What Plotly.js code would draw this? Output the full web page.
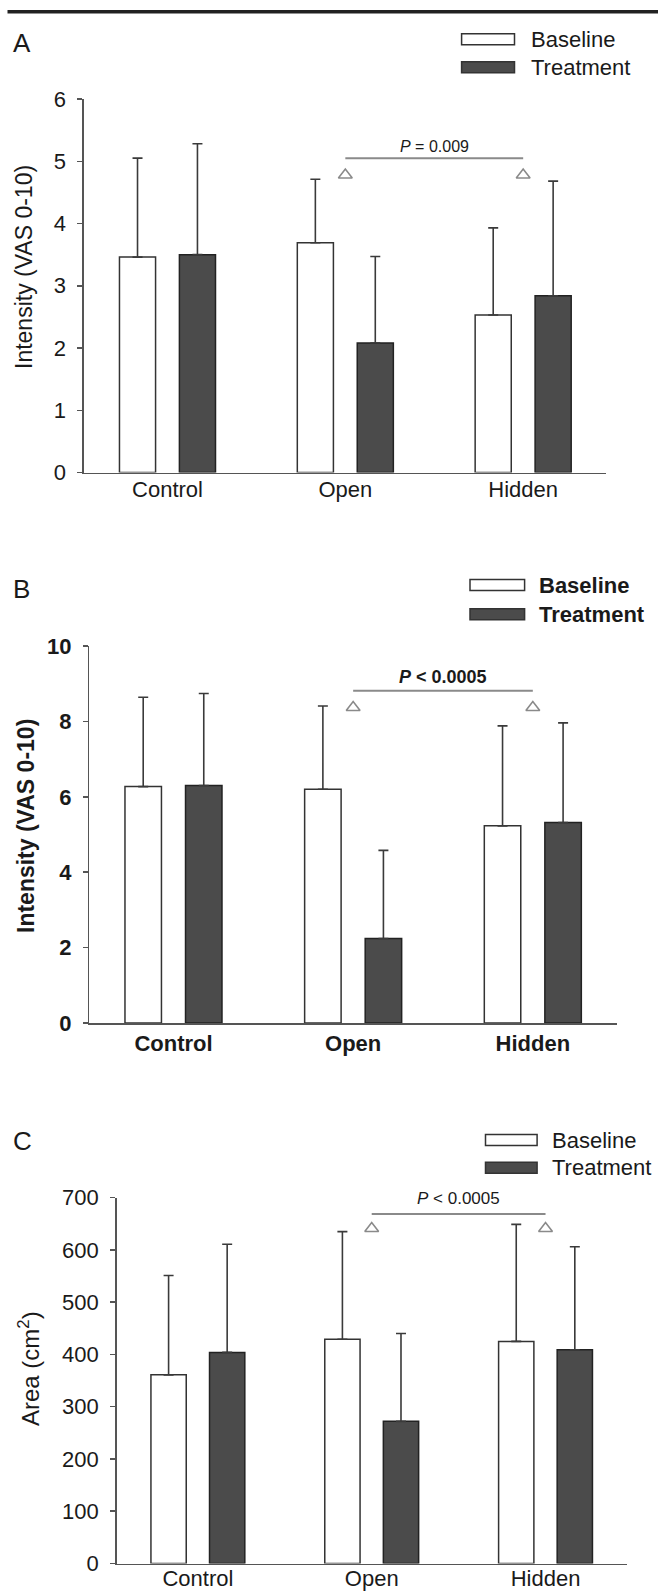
<!DOCTYPE html>
<html>
<head>
<meta charset="utf-8">
<script src="https://cdn.plot.ly/plotly-3.0.1.min.js"></script>
<style>
  html, body { margin: 0; padding: 0; background: #ffffff; }
  #chart { width: 658px; height: 1593px; }
</style>
</head>
<body>
<div id="chart"></div>
<script>
// ---------------- DATA ----------------
const categories = ['Control', 'Open', 'Hidden'];
const seriesNames = ['Baseline', 'Treatment'];
const panelLetters = ['A', 'B', 'C'];
const yTitles = ['Intensity (VAS 0-10)', 'Intensity (VAS 0-10)', 'Area (cm<sup>2</sup>)'];

// Panel A – intensity (VAS 0-10)
const aBaseline = [3.46, 3.69, 2.53];
const aBaselineErr = [1.59, 1.02, 1.40];
const aTreatment = [3.50, 2.08, 2.84];
const aTreatmentErr = [1.78, 1.39, 1.84];
const aTicks = [0, 1, 2, 3, 4, 5, 6];

// Panel B – intensity (VAS 0-10)
const bBaseline = [6.27, 6.20, 5.23];
const bBaselineErr = [2.37, 2.21, 2.65];
const bTreatment = [6.30, 2.24, 5.32];
const bTreatmentErr = [2.44, 2.34, 2.64];
const bTicks = [0, 2, 4, 6, 8, 10];

// Panel C – area (cm2)
const cBaseline = [361, 429, 425];
const cBaselineErr = [190, 206, 224];
const cTreatment = [404, 272, 409];
const cTreatmentErr = [207, 168, 197];
const cTicks = [0, 100, 200, 300, 400, 500, 600, 700];

// Significance brackets (Open vs Hidden)
const sigCategories = ['Open', 'Hidden'];
const sigLabels = ['<i>P</i> = 0.009', '<i>P</i> &lt; 0.0005', '<i>P</i> &lt; 0.0005'];
const sigLineY = [5.05, 8.81, 669];
const sigMarkY = [4.78, 8.37, 641];

// ---------------- STYLE / LAYOUT ----------------
const W = 658, H = 1593;
const px = v => v / W;
const py = v => 1 - v / H;
const FONT = 'Liberation Sans, Arial, Helvetica, sans-serif';
const INK = '#1a1a1a';
const AXIS = '#555555';
const DARK = '#4b4b4b';

const panels = [
  { base: aBaseline, baseErr: aBaselineErr, treat: aTreatment, treatErr: aTreatmentErr, ticks: aTicks,
    yr: [0, 6], xdom: [83.9, 606.4], ydom: [472.5, 99], xr: [-0.470, 2.468], bold: false, xStand: -3,
    legX: [461.6, 514.5], legY: [39.2, 67.2], legText: 528.7, letterY: 43.5,
    titleX: 24, titleY: 267, titleSize: 23, pSize: 16, pShift: 1 },
  { base: bBaseline, baseErr: bBaselineErr, treat: bTreatment, treatErr: bTreatmentErr, ticks: bTicks,
    yr: [0, 10], xdom: [89.4, 616.9], ydom: [1023, 646], xr: [-0.468, 2.468], bold: true, xStand: 0,
    legX: [470, 524.6], legY: [585, 614.3], legText: 537, letterY: 589,
    titleX: 26, titleY: 826, titleSize: 23, pSize: 18, pShift: 2 },
  { base: cBaseline, baseErr: cBaselineErr, treat: cTreatment, treatErr: cTreatmentErr, ticks: cTicks,
    yr: [0, 700], xdom: [116.7, 627.4], ydom: [1563.5, 1197.7], xr: [-0.467, 2.471], bold: false, xStand: -5,
    legX: [485.5, 537.1], legY: [1140, 1167.7], legText: 549.7, letterY: 1141,
    titleX: 29, titleY: 1369, titleSize: 24, pSize: 17, pShift: 4 }
];

const data = [];
const layout = {
  width: W, height: H,
  margin: { l: 0, r: 0, t: 0, b: 0 },
  paper_bgcolor: '#ffffff', plot_bgcolor: '#ffffff',
  showlegend: false,
  font: { family: FONT, color: INK },
  shapes: [
    { type: 'line', xref: 'paper', yref: 'paper', x0: px(7.5), x1: 1, y0: py(11.7), y1: py(11.7),
      line: { color: '#222222', width: 3.5 } }
  ],
  annotations: []
};

panels.forEach((p, i) => {
  const n = i === 0 ? '' : String(i + 1);
  const xa = 'x' + n, ya = 'y' + n;
  const weight = p.bold ? 'bold' : 'normal';
  const zeros = p.base.map(() => 0);

  const errStyle = { color: '#3a3a3a', thickness: 1.6, width: 5 };
  data.push({
    type: 'bar', name: seriesNames[0], x: categories, y: p.base, xaxis: xa, yaxis: ya,
    offset: -0.27, width: 0.203,
    marker: { color: '#ffffff', line: { color: '#333333', width: 1.5 } },
    error_y: Object.assign({ type: 'data', symmetric: false, array: p.baseErr, arrayminus: zeros }, errStyle),
    hoverinfo: 'x+y'
  });
  data.push({
    type: 'bar', name: seriesNames[1], x: categories, y: p.treat, xaxis: xa, yaxis: ya,
    offset: 0.067, width: 0.203,
    marker: { color: DARK, line: { color: '#222222', width: 1.5 } },
    error_y: Object.assign({ type: 'data', symmetric: false, array: p.treatErr, arrayminus: zeros }, errStyle),
    hoverinfo: 'x+y'
  });
  // significance line
  data.push({
    type: 'scatter', mode: 'lines', x: sigCategories, y: [sigLineY[i], sigLineY[i]],
    xaxis: xa, yaxis: ya, line: { color: '#8a8a8a', width: 2 }, hoverinfo: 'skip', cliponaxis: false
  });
  // open triangles
  data.push({
    type: 'scatter', mode: 'markers', x: sigCategories, y: [sigMarkY[i], sigMarkY[i]],
    xaxis: xa, yaxis: ya, cliponaxis: false, hoverinfo: 'skip',
    marker: { symbol: 'triangle-up-open', size: 12, color: '#8a8a8a', line: { width: 1.6, color: '#8a8a8a' } }
  });

  layout['xaxis' + n] = {
    domain: [px(p.xdom[0]), px(p.xdom[1])], anchor: ya, type: 'category',
    range: p.xr, showline: true, linecolor: AXIS, linewidth: 1.5,
    ticks: '', showgrid: false, zeroline: false, fixedrange: true,
    ticklabelstandoff: p.xStand,
    tickfont: { family: FONT, size: 22, color: INK, weight: weight }
  };
  layout['yaxis' + n] = {
    domain: [py(p.ydom[0]), py(p.ydom[1])], anchor: xa,
    range: p.yr, tickmode: 'array', tickvals: p.ticks,
    showline: true, linecolor: AXIS, linewidth: 1.5,
    ticks: 'outside', ticklen: 5, tickwidth: 1.5, tickcolor: AXIS,
    ticklabelstandoff: 7,
    showgrid: false, zeroline: false, fixedrange: true,
    tickfont: { family: FONT, size: 22, color: INK, weight: weight }
  };

  // P-value label
  layout.annotations.push({
    xref: xa, yref: ya, x: 1.5, y: sigLineY[i], yanchor: 'bottom', xanchor: 'center',
    yshift: p.pShift, text: sigLabels[i], showarrow: false,
    font: { family: FONT, size: p.pSize, color: INK, weight: weight }
  });
  // panel letter
  layout.annotations.push({
    xref: 'paper', yref: 'paper', x: px(11), y: py(p.letterY), xanchor: 'left', yanchor: 'middle',
    text: panelLetters[i], showarrow: false, font: { family: FONT, size: 26, color: INK }
  });
  // y axis title
  layout.annotations.push({
    xref: 'paper', yref: 'paper', x: px(p.titleX), y: py(p.titleY), xanchor: 'center', yanchor: 'middle',
    textangle: -90, text: yTitles[i], showarrow: false,
    font: { family: FONT, size: p.titleSize, color: INK, weight: weight }
  });
  // legend boxes and labels
  const fills = ['#ffffff', DARK];
  p.legY.forEach((cy, k) => {
    layout.shapes.push({
      type: 'rect', xref: 'paper', yref: 'paper',
      x0: px(p.legX[0]), x1: px(p.legX[1]), y0: py(cy - 5.5), y1: py(cy + 5.5),
      fillcolor: fills[k], line: { color: '#333333', width: 1.5 }
    });
    layout.annotations.push({
      xref: 'paper', yref: 'paper', x: px(p.legText), y: py(cy), xanchor: 'left', yanchor: 'middle',
      text: seriesNames[k], showarrow: false,
      font: { family: FONT, size: 22, color: INK, weight: weight }
    });
  });
});

Plotly.newPlot('chart', data, layout, { displayModeBar: false, staticPlot: true });
</script>
</body>
</html>
